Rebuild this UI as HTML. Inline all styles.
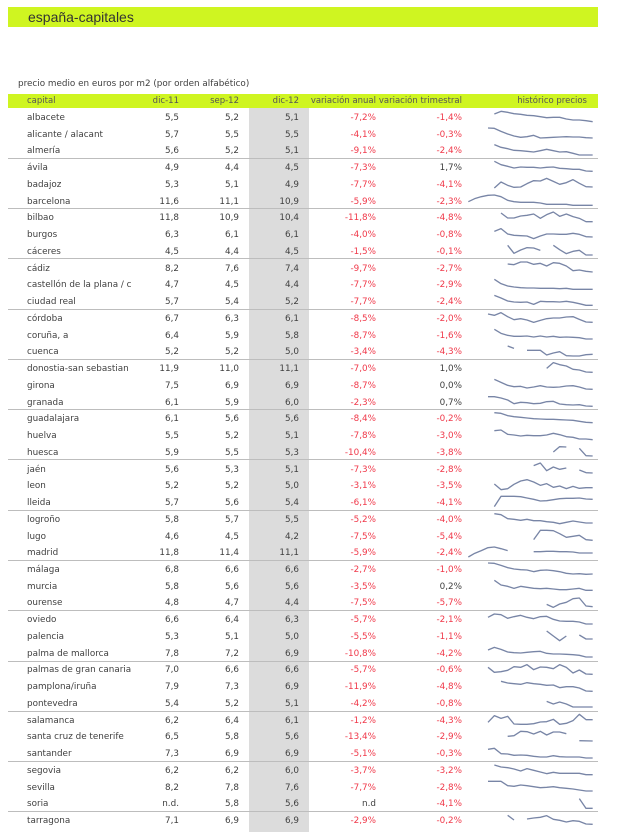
<!DOCTYPE html>
<html><head><meta charset="utf-8">
<style>
body{margin:0;width:620px;height:832px;background:#fff;position:relative;overflow:hidden;font-family:"DejaVu Sans",sans-serif;font-size:8.8px;color:#3f3f3f}
.bar{position:absolute;left:8px;top:7px;width:590px;height:20px;background:#cff521}
.title{position:absolute;left:28px;top:7px;height:20px;line-height:20px;font-family:"Liberation Sans",sans-serif;font-size:14px;color:#333}
.sub{position:absolute;left:18px;top:78px;line-height:13px;font-size:8.8px}
.hdr{position:absolute;left:8px;top:94px;width:590px;height:14px;background:#cff521}
.gcol{position:absolute;left:249px;top:108px;width:60px;height:724px;background:#dcdcdc}
.r{position:absolute;left:0;width:620px;height:16.74px;line-height:16.74px;white-space:nowrap}
.r span{position:absolute}
.h{top:94px;height:14px;line-height:14px;color:#555;font-size:8.5px}
.c0{left:27px}.c1{right:441px}.c2{right:381px}.c3{right:321px}.c4{right:244px}.c5{right:158px}.c6{right:33px}
.n{color:#f0394a}
.sep{position:absolute;left:8px;width:590px;height:1px;background:#bdbdbd}
svg{position:absolute;left:0;top:0}
</style></head><body>
<div class="bar"></div>
<div class="title">españa-capitales</div>
<div class="sub">precio medio en euros por m2 (por orden alfabético)</div>
<div class="hdr"></div>
<div class="gcol"></div>
<div class="r h"><span class="c0">capital</span><span class="c1">dic-11</span><span class="c2">sep-12</span><span class="c3">dic-12</span><span class="c4">variación anual</span><span class="c5">variación trimestral</span><span class="c6">histórico precios</span></div>

<div class="sep" style="top:158px"></div>
<div class="sep" style="top:208px"></div>
<div class="sep" style="top:258px"></div>
<div class="sep" style="top:309px"></div>
<div class="sep" style="top:359px"></div>
<div class="sep" style="top:409px"></div>
<div class="sep" style="top:459px"></div>
<div class="sep" style="top:510px"></div>
<div class="sep" style="top:560px"></div>
<div class="sep" style="top:610px"></div>
<div class="sep" style="top:661px"></div>
<div class="sep" style="top:711px"></div>
<div class="sep" style="top:761px"></div>
<div class="sep" style="top:811px"></div>

<div class="r" style="top:110px"><span class="c0">albacete</span><span class="c1">5,5</span><span class="c2">5,2</span><span class="c3">5,1</span><span class="c4 n">-7,2%</span><span class="c5 n">-1,4%</span></div>
<div class="r" style="top:126.74px"><span class="c0">alicante / alacant</span><span class="c1">5,7</span><span class="c2">5,5</span><span class="c3">5,5</span><span class="c4 n">-4,1%</span><span class="c5 n">-0,3%</span></div>
<div class="r" style="top:143.48px"><span class="c0">almería</span><span class="c1">5,6</span><span class="c2">5,2</span><span class="c3">5,1</span><span class="c4 n">-9,1%</span><span class="c5 n">-2,4%</span></div>
<div class="r" style="top:160.22px"><span class="c0">ávila</span><span class="c1">4,9</span><span class="c2">4,4</span><span class="c3">4,5</span><span class="c4 n">-7,3%</span><span class="c5">1,7%</span></div>
<div class="r" style="top:176.96px"><span class="c0">badajoz</span><span class="c1">5,3</span><span class="c2">5,1</span><span class="c3">4,9</span><span class="c4 n">-7,7%</span><span class="c5 n">-4,1%</span></div>
<div class="r" style="top:193.7px"><span class="c0">barcelona</span><span class="c1">11,6</span><span class="c2">11,1</span><span class="c3">10,9</span><span class="c4 n">-5,9%</span><span class="c5 n">-2,3%</span></div>
<div class="r" style="top:210.44px"><span class="c0">bilbao</span><span class="c1">11,8</span><span class="c2">10,9</span><span class="c3">10,4</span><span class="c4 n">-11,8%</span><span class="c5 n">-4,8%</span></div>
<div class="r" style="top:227.18px"><span class="c0">burgos</span><span class="c1">6,3</span><span class="c2">6,1</span><span class="c3">6,1</span><span class="c4 n">-4,0%</span><span class="c5 n">-0,8%</span></div>
<div class="r" style="top:243.92px"><span class="c0">cáceres</span><span class="c1">4,5</span><span class="c2">4,4</span><span class="c3">4,5</span><span class="c4 n">-1,5%</span><span class="c5 n">-0,1%</span></div>
<div class="r" style="top:260.66px"><span class="c0">cádiz</span><span class="c1">8,2</span><span class="c2">7,6</span><span class="c3">7,4</span><span class="c4 n">-9,7%</span><span class="c5 n">-2,7%</span></div>
<div class="r" style="top:277.4px"><span class="c0">castellón de la plana / c</span><span class="c1">4,7</span><span class="c2">4,5</span><span class="c3">4,4</span><span class="c4 n">-7,7%</span><span class="c5 n">-2,9%</span></div>
<div class="r" style="top:294.14px"><span class="c0">ciudad real</span><span class="c1">5,7</span><span class="c2">5,4</span><span class="c3">5,2</span><span class="c4 n">-7,7%</span><span class="c5 n">-2,4%</span></div>
<div class="r" style="top:310.88px"><span class="c0">córdoba</span><span class="c1">6,7</span><span class="c2">6,3</span><span class="c3">6,1</span><span class="c4 n">-8,5%</span><span class="c5 n">-2,0%</span></div>
<div class="r" style="top:327.62px"><span class="c0">coruña, a</span><span class="c1">6,4</span><span class="c2">5,9</span><span class="c3">5,8</span><span class="c4 n">-8,7%</span><span class="c5 n">-1,6%</span></div>
<div class="r" style="top:344.36px"><span class="c0">cuenca</span><span class="c1">5,2</span><span class="c2">5,2</span><span class="c3">5,0</span><span class="c4 n">-3,4%</span><span class="c5 n">-4,3%</span></div>
<div class="r" style="top:361.1px"><span class="c0">donostia-san sebastian</span><span class="c1">11,9</span><span class="c2">11,0</span><span class="c3">11,1</span><span class="c4 n">-7,0%</span><span class="c5">1,0%</span></div>
<div class="r" style="top:377.84px"><span class="c0">girona</span><span class="c1">7,5</span><span class="c2">6,9</span><span class="c3">6,9</span><span class="c4 n">-8,7%</span><span class="c5">0,0%</span></div>
<div class="r" style="top:394.58px"><span class="c0">granada</span><span class="c1">6,1</span><span class="c2">5,9</span><span class="c3">6,0</span><span class="c4 n">-2,3%</span><span class="c5">0,7%</span></div>
<div class="r" style="top:411.32px"><span class="c0">guadalajara</span><span class="c1">6,1</span><span class="c2">5,6</span><span class="c3">5,6</span><span class="c4 n">-8,4%</span><span class="c5 n">-0,2%</span></div>
<div class="r" style="top:428.06px"><span class="c0">huelva</span><span class="c1">5,5</span><span class="c2">5,2</span><span class="c3">5,1</span><span class="c4 n">-7,8%</span><span class="c5 n">-3,0%</span></div>
<div class="r" style="top:444.8px"><span class="c0">huesca</span><span class="c1">5,9</span><span class="c2">5,5</span><span class="c3">5,3</span><span class="c4 n">-10,4%</span><span class="c5 n">-3,8%</span></div>
<div class="r" style="top:461.54px"><span class="c0">jaén</span><span class="c1">5,6</span><span class="c2">5,3</span><span class="c3">5,1</span><span class="c4 n">-7,3%</span><span class="c5 n">-2,8%</span></div>
<div class="r" style="top:478.28px"><span class="c0">leon</span><span class="c1">5,2</span><span class="c2">5,2</span><span class="c3">5,0</span><span class="c4 n">-3,1%</span><span class="c5 n">-3,5%</span></div>
<div class="r" style="top:495.02px"><span class="c0">lleida</span><span class="c1">5,7</span><span class="c2">5,6</span><span class="c3">5,4</span><span class="c4 n">-6,1%</span><span class="c5 n">-4,1%</span></div>
<div class="r" style="top:511.76px"><span class="c0">logroño</span><span class="c1">5,8</span><span class="c2">5,7</span><span class="c3">5,5</span><span class="c4 n">-5,2%</span><span class="c5 n">-4,0%</span></div>
<div class="r" style="top:528.5px"><span class="c0">lugo</span><span class="c1">4,6</span><span class="c2">4,5</span><span class="c3">4,2</span><span class="c4 n">-7,5%</span><span class="c5 n">-5,4%</span></div>
<div class="r" style="top:545.24px"><span class="c0">madrid</span><span class="c1">11,8</span><span class="c2">11,4</span><span class="c3">11,1</span><span class="c4 n">-5,9%</span><span class="c5 n">-2,4%</span></div>
<div class="r" style="top:561.98px"><span class="c0">málaga</span><span class="c1">6,8</span><span class="c2">6,6</span><span class="c3">6,6</span><span class="c4 n">-2,7%</span><span class="c5 n">-1,0%</span></div>
<div class="r" style="top:578.72px"><span class="c0">murcia</span><span class="c1">5,8</span><span class="c2">5,6</span><span class="c3">5,6</span><span class="c4 n">-3,5%</span><span class="c5">0,2%</span></div>
<div class="r" style="top:595.46px"><span class="c0">ourense</span><span class="c1">4,8</span><span class="c2">4,7</span><span class="c3">4,4</span><span class="c4 n">-7,5%</span><span class="c5 n">-5,7%</span></div>
<div class="r" style="top:612.2px"><span class="c0">oviedo</span><span class="c1">6,6</span><span class="c2">6,4</span><span class="c3">6,3</span><span class="c4 n">-5,7%</span><span class="c5 n">-2,1%</span></div>
<div class="r" style="top:628.94px"><span class="c0">palencia</span><span class="c1">5,3</span><span class="c2">5,1</span><span class="c3">5,0</span><span class="c4 n">-5,5%</span><span class="c5 n">-1,1%</span></div>
<div class="r" style="top:645.68px"><span class="c0">palma de mallorca</span><span class="c1">7,8</span><span class="c2">7,2</span><span class="c3">6,9</span><span class="c4 n">-10,8%</span><span class="c5 n">-4,2%</span></div>
<div class="r" style="top:662.42px"><span class="c0">palmas de gran canaria</span><span class="c1">7,0</span><span class="c2">6,6</span><span class="c3">6,6</span><span class="c4 n">-5,7%</span><span class="c5 n">-0,6%</span></div>
<div class="r" style="top:679.16px"><span class="c0">pamplona/iruña</span><span class="c1">7,9</span><span class="c2">7,3</span><span class="c3">6,9</span><span class="c4 n">-11,9%</span><span class="c5 n">-4,8%</span></div>
<div class="r" style="top:695.9px"><span class="c0">pontevedra</span><span class="c1">5,4</span><span class="c2">5,2</span><span class="c3">5,1</span><span class="c4 n">-4,2%</span><span class="c5 n">-0,8%</span></div>
<div class="r" style="top:712.64px"><span class="c0">salamanca</span><span class="c1">6,2</span><span class="c2">6,4</span><span class="c3">6,1</span><span class="c4 n">-1,2%</span><span class="c5 n">-4,3%</span></div>
<div class="r" style="top:729.38px"><span class="c0">santa cruz de tenerife</span><span class="c1">6,5</span><span class="c2">5,8</span><span class="c3">5,6</span><span class="c4 n">-13,4%</span><span class="c5 n">-2,9%</span></div>
<div class="r" style="top:746.12px"><span class="c0">santander</span><span class="c1">7,3</span><span class="c2">6,9</span><span class="c3">6,9</span><span class="c4 n">-5,1%</span><span class="c5 n">-0,3%</span></div>
<div class="r" style="top:762.86px"><span class="c0">segovia</span><span class="c1">6,2</span><span class="c2">6,2</span><span class="c3">6,0</span><span class="c4 n">-3,7%</span><span class="c5 n">-3,2%</span></div>
<div class="r" style="top:779.6px"><span class="c0">sevilla</span><span class="c1">8,2</span><span class="c2">7,8</span><span class="c3">7,6</span><span class="c4 n">-7,7%</span><span class="c5 n">-2,8%</span></div>
<div class="r" style="top:796.34px"><span class="c0">soria</span><span class="c1">n.d.</span><span class="c2">5,8</span><span class="c3">5,6</span><span class="c4">n.d</span><span class="c5 n">-4,1%</span></div>
<div class="r" style="top:813.08px"><span class="c0">tarragona</span><span class="c1">7,1</span><span class="c2">6,9</span><span class="c3">6,9</span><span class="c4 n">-2,9%</span><span class="c5 n">-0,2%</span></div>

<svg width="620" height="832" viewBox="0 0 620 832">
<g fill="none" stroke="#7885a6" stroke-width="4" stroke-linejoin="round">
<g transform="translate(465,108) scale(0.33333)">
<polyline points="88,18 108,10 128,13 147,17 167,19 186,22 206,23 226,26 245,29 265,28 284,28 304,33 324,36 343,36 363,38 383,41"/>
<polyline points="69,60 88,61 108,70 128,78 147,84 167,88 186,86 206,82 226,90 245,89 265,88 284,87 304,86 324,87 343,87 363,89 383,90"/>
<polyline points="88,110 108,118 128,122 147,127 167,128 186,130 206,132 226,128 245,124 265,128 284,132 304,131 324,136 343,141 363,141 383,141"/>
<polyline points="88,160 108,170 128,175 147,180 167,177 186,178 206,178 226,180 245,178 265,177 284,181 304,182 324,184 343,184 363,189 383,190"/>
<polyline points="88,240 108,222 128,232 147,238 167,237 186,227 206,218 226,219 245,211 265,220 284,229 304,224 324,215 343,226 363,236 383,237"/>
<polyline points="10,281 29,272 49,266 69,262 88,261 108,266 128,277 147,281 167,283 186,283 206,283 226,285 245,289 265,289 284,289 304,289 324,292 343,292 363,292 383,292"/>
<polyline points="108,315 128,330 147,330 167,324 186,322 206,318 226,331 245,320 265,312 284,325 304,318 324,326 343,331 363,341 383,341"/>
<polyline points="88,370 108,362 128,378 147,382 167,383 186,384 206,392 226,384 245,378 265,378 284,379 304,379 324,376 343,379 363,386 383,387"/>
<polyline points="128,412 147,436 167,426 186,419 206,420 226,427"/>
<polyline points="265,412 284,425 304,437 324,430 343,427 363,441 383,441"/>
<polyline points="128,468 147,470 167,462 186,462 206,469 226,466 245,474 265,464 284,466 304,474 324,488 343,486 363,490 383,492"/>
<polyline points="88,514 108,527 128,534 147,537 167,539 186,540 206,540 226,541 245,541 265,541 284,542 304,541 324,544 343,544 363,544 383,544"/>
</g>
<g transform="translate(465,290) scale(0.33333)">
<polyline points="88,16 108,24 128,33 147,36 167,37 186,36 206,43 226,34 245,35 265,35 284,36 304,34 324,37 343,41 363,46 383,46"/>
<polyline points="69,72 88,76 108,68 128,80 147,89 167,86 186,90 206,97 226,91 245,86 265,84 284,84 304,81 324,80 343,88 363,96 383,97"/>
<polyline points="88,118 108,130 128,136 147,139 167,139 186,138 206,141 226,138 245,141 265,139 284,142 304,141 324,142 343,143 363,147 383,147"/>
<polyline points="128,168 147,175"/>
<polyline points="186,181 206,181 226,181 245,195 265,189 284,185 304,197 324,198 343,198 363,194 383,193"/>
<polyline points="245,235 265,218 284,224 304,228 324,238 343,240 363,246 383,247"/>
<polyline points="88,268 108,277 128,286 147,290 167,289 186,294 206,291 226,287 245,291 265,292 284,291 304,288 324,287 343,291 363,297 383,298"/>
<polyline points="69,320 88,320 108,324 128,330 147,341 167,337 186,338 206,341 226,340 245,335 265,334 284,342 304,344 324,345 343,344 363,348 383,349"/>
<polyline points="88,368 108,370 128,377 147,380 167,382 186,384 206,386 226,387 245,388 265,388 284,389 304,390 324,391 343,394 363,397 383,398"/>
<polyline points="88,422 108,420 128,433 147,435 167,438 186,436 206,437 226,437 245,435 265,430 284,434 304,440 324,442 343,447 363,447 383,449"/>
<polyline points="265,486 284,470 304,471"/>
<polyline points="343,475 363,497 383,498"/>
<polyline points="206,527 226,519 245,542 265,531 284,538 304,534"/>
<polyline points="343,540 363,548 383,549"/>
</g>
<g transform="translate(465,472) scale(0.33333)">
<polyline points="88,36 108,53 128,50 147,37 167,27 186,23 206,30 226,40 245,35 265,46 284,42 304,50 324,43 343,49 363,47 383,47"/>
<polyline points="88,104 108,73 128,73 147,73 167,74 186,78 206,82 226,87 245,86 265,83 284,80 304,79 324,79 343,78 363,81 383,82"/>
<polyline points="88,125 108,128 128,140 147,142 167,145 186,142 206,146 226,146 245,149 265,151 284,155 304,151 324,147 343,150 363,153 383,153"/>
<polyline points="206,203 226,175 245,175 265,176 284,185 304,196 324,193 343,190 363,203 383,205"/>
<polyline points="10,255 29,244 49,236 69,227 88,225 108,230 128,236"/>
<polyline points="206,239 226,239 245,238 265,238 284,239 304,239 324,240 343,243 363,243 383,243"/>
<polyline points="69,273 88,274 108,280 128,287 147,291 167,293 186,294 206,299 226,295 245,294 265,296 284,299 304,304 324,306 343,305 363,307 383,306"/>
<polyline points="88,325 108,339 128,343 147,349 167,343 186,346 206,349 226,350 245,349 265,351 284,353 304,353 324,351 343,349 363,355 383,355"/>
<polyline points="245,397 265,406 284,396 304,391 324,380 343,378 363,402 383,404"/>
<polyline points="69,436 88,426 108,428 128,439 147,434 167,430 186,436 206,440 226,434 245,433 265,442 284,447 304,448 324,448 343,450 363,456 383,456"/>
<polyline points="245,477 265,492 284,506 304,492"/>
<polyline points="343,489 363,501 383,501"/>
<polyline points="69,534 88,526 108,532 128,540 147,542 167,543 186,541 206,539 226,538 245,544 265,546 284,546 304,547 324,548 343,550 363,555 383,555"/>
</g>
<g transform="translate(465,650) scale(0.33333)">
<polyline points="69,52 88,67 108,65 128,61 147,50 167,52 186,44 206,59 226,51 245,52 265,56 284,44 304,52 324,69 343,60 363,72 383,73"/>
<polyline points="108,94 128,99 147,101 167,103 186,98 206,101 226,103 245,106 265,105 284,113 304,110 324,110 343,114 363,123 383,124"/>
<polyline points="245,154 265,162 284,156 304,162 324,171 343,171 363,171 383,171"/>
<polyline points="69,217 88,197 108,205 128,199 147,222 167,223 186,223 206,221 226,216 245,215 265,208 284,223 304,220 324,212 343,193 363,209 383,209"/>
<polyline points="128,259 147,257 167,244 186,245 206,252 226,244 245,255 265,246 284,246 304,251"/>
<polyline points="343,272 383,273"/>
<polyline points="69,298 88,295 108,311 128,312 147,316 167,315 186,316 206,319 226,321 245,321 265,317 284,320 304,321 324,321 343,321 363,324 383,324"/>
<polyline points="88,345 108,351 128,353 147,357 167,363 186,356 206,361 226,366 245,371 265,367 284,370 304,370 324,370 343,370 363,374 383,374"/>
<polyline points="69,394 88,394 108,394 128,407 147,409 167,405 186,407 206,410 226,413 245,412 265,410 284,413 304,415 324,417 343,420 363,423 383,423"/>
<polyline points="343,446 363,475 383,475"/>
<polyline points="128,496 147,510"/>
<polyline points="186,507 206,504 226,502 245,497 265,508 284,511 304,516 324,512 343,514 363,522 383,523"/>
</g>
</g>
</svg>
</body></html>
